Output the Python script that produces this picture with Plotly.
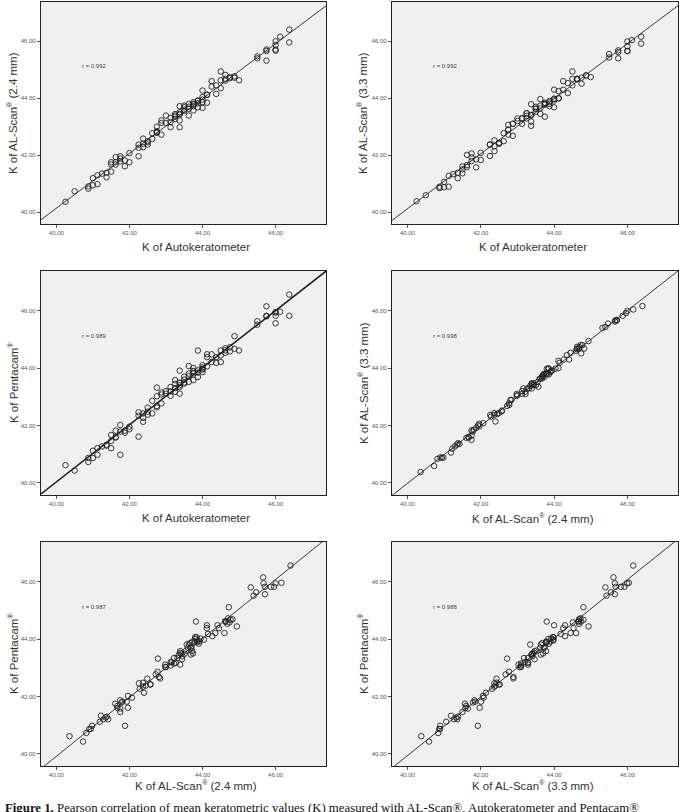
import numpy as np
import plotly.graph_objects as go

# ---- Data: one entry per eye (K values, dioptres) ----
auto_k = [40.25, 40.5, 40.875, 40.875, 41.0, 41.0, 41.125, 41.125, 41.25, 41.375, 41.375,
          41.5, 41.5, 41.5, 41.625, 41.625, 41.625, 41.75, 41.75, 41.75, 41.875, 41.875,
          42.0, 42.0, 42.25, 42.25, 42.25, 42.375, 42.375, 42.375, 42.5, 42.5, 42.625, 42.625,
          42.75, 42.75, 42.75, 42.75, 42.875, 42.875, 42.875, 43.0, 43.0, 43.125, 43.125, 43.125,
          43.25, 43.25, 43.25, 43.375, 43.375, 43.375, 43.375, 43.375, 43.5, 43.5, 43.625, 43.625,
          43.625, 43.75, 43.75, 43.75, 43.875, 43.875, 43.875, 44.0, 44.0, 44.0, 44.0, 44.125,
          44.125, 44.125, 44.25, 44.25, 44.375, 44.375, 44.5, 44.5, 44.5, 44.625, 44.625, 44.75,
          44.875, 44.875, 45.0, 45.5, 45.5, 45.75, 45.75, 45.75, 46.0, 46.0, 46.0, 46.0, 46.125,
          46.375, 46.375,
          43.25, 43.5, 43.625, 43.75, 43.875, 44.0, 43.375, 43.5, 43.75, 44.625, 44.75, 42.5]
alscan_24 = [40.36, 40.73, 40.82, 40.90, 40.94, 41.19, 40.98, 41.29, 41.35, 41.22, 41.38,
             41.42, 41.75, 41.67, 41.75, 41.93, 41.67, 41.78, 41.96, 41.88, 41.81, 41.61,
             42.07, 41.75, 41.96, 42.26, 42.37, 42.28, 42.58, 42.40, 42.37, 42.49, 42.57, 42.77,
             42.84, 42.81, 42.78, 43.00, 42.72, 43.22, 43.13, 43.39, 43.13, 42.98, 43.16, 43.31,
             43.39, 43.27, 43.44, 42.98, 43.22, 43.51, 43.45, 43.72, 43.68, 43.74, 43.39, 43.63,
             43.80, 43.72, 43.57, 43.86, 43.68, 43.82, 43.92, 44.04, 44.27, 43.66, 43.86, 43.84,
             44.12, 44.12, 44.41, 44.60, 44.15, 44.45, 44.63, 44.94, 44.35, 44.82, 44.68, 44.74,
             44.72, 44.77, 44.63, 45.47, 45.40, 45.66, 45.71, 45.32, 46.00, 45.71, 45.87, 45.67,
             46.16, 46.41, 45.96,
             43.35, 43.55, 43.70, 43.78, 43.90, 43.95, 43.42, 43.60, 43.80, 44.62, 44.70, 42.45]
alscan_33 = [40.38, 40.59, 40.84, 40.89, 40.87, 41.06, 40.89, 41.27, 41.33, 41.19, 41.38,
             41.36, 41.50, 41.60, 41.65, 42.01, 41.58, 41.79, 42.06, 41.92, 41.85, 41.57,
             42.08, 41.83, 41.97, 42.37, 42.37, 42.31, 42.52, 42.14, 42.43, 42.43, 42.49, 42.77,
             42.89, 42.89, 42.72, 43.06, 42.68, 43.10, 43.10, 43.29, 43.20, 43.10, 43.29, 43.29,
             43.47, 43.29, 43.47, 43.03, 43.18, 43.41, 43.41, 43.79, 43.64, 43.70, 43.45, 43.64,
             43.97, 43.78, 43.35, 43.78, 43.72, 43.80, 43.90, 43.98, 44.30, 43.68, 43.98, 43.99,
             44.25, 44.00, 44.30, 44.60, 44.18, 44.53, 44.68, 44.94, 44.45, 44.68, 44.68, 44.51,
             44.80, 44.80, 44.74, 45.55, 45.43, 45.62, 45.68, 45.40, 45.99, 45.66, 45.82, 45.66,
             46.04, 46.16, 45.92,
             43.38, 43.52, 43.74, 43.80, 43.86, 43.92, 43.40, 43.62, 43.84, 44.66, 44.72, 42.40]
pentacam = [40.62, 40.43, 40.73, 40.87, 40.87, 41.12, 40.98, 41.21, 41.27, 41.33, 41.30,
            41.21, 41.46, 41.67, 41.58, 41.82, 41.60, 41.79, 42.02, 40.98, 41.82, 41.75,
            41.96, 41.87, 41.61, 42.46, 42.34, 42.27, 42.42, 42.13, 42.48, 42.62, 42.42, 42.86,
            42.63, 42.68, 43.32, 43.02, 42.77, 43.15, 43.08, 43.11, 43.20, 43.03, 43.19, 43.34,
            43.58, 43.17, 43.30, 43.11, 43.34, 43.49, 43.40, 43.91, 43.46, 43.50, 43.52, 43.81,
            44.07, 43.58, 43.81, 43.90, 43.69, 44.61, 43.92, 43.98, 44.10, 43.86, 43.95, 44.06,
            44.38, 44.48, 44.48, 44.21, 44.18, 44.38, 44.61, 44.44, 44.21, 44.69, 44.53, 44.58,
            45.11, 44.67, 44.61, 45.63, 45.51, 46.15, 45.82, 45.80, 45.94, 45.56, 45.82, 45.94,
            45.96, 46.56, 45.82,
            43.45, 43.60, 43.72, 43.88, 43.84, 44.02, 43.48, 43.70, 44.00, 44.62, 44.72, 42.38]

r_labels = ["r = 0.992", "r = 0.992", "r = 0.989", "r = 0.998", "r = 0.987", "r = 0.988"]
tick_vals = [40, 42, 44, 46]

REG = "<sup><span style='font-size:7px'>®</span></sup>"
AL24 = f"K of AL-Scan{REG} (2.4 mm)"
AL33 = f"K of AL-Scan{REG} (3.3 mm)"
PENTA = f"K of Pentacam{REG}"
AUTO = "K of Autokeratometer"

panels = [
    (auto_k, alscan_24, AUTO, AL24),
    (auto_k, alscan_33, AUTO, AL33),
    (auto_k, pentacam, AUTO, PENTA),
    (alscan_24, alscan_33, AL24, AL33),
    (alscan_24, pentacam, AL24, PENTA),
    (alscan_33, pentacam, AL33, PENTA),
]

W, H = 679, 812
col_x = [(41, 326), (392, 678)]
row_y = [(2, 224), (271, 495), (542, 766)]
xtitle_y = [247, 518, 785]
xtitle_x = [196, 533]
ytitle_x = [13, 363]
rng = [39.58, 47.38]

fig = go.Figure()
annotations = []
layout_axes = {}

for i, (xs, ys, xt, yt) in enumerate(panels):
    r, c = divmod(i, 2)
    n = i + 1
    xa = "xaxis" if n == 1 else f"xaxis{n}"
    ya = "yaxis" if n == 1 else f"yaxis{n}"
    xref = "x" if n == 1 else f"x{n}"
    yref = "y" if n == 1 else f"y{n}"
    x0, x1 = col_x[c]
    y0, y1 = row_y[r]
    common = dict(range=rng, tickvals=tick_vals, tickformat=".2f",
                  tickfont=dict(family="Liberation Sans, Arial", size=6, color="#555"),
                  showgrid=False, zeroline=False, showline=True, linecolor="#222",
                  linewidth=1.3, mirror=True, ticks="outside", ticklen=3,
                  tickcolor="#555", tickwidth=0.8)
    layout_axes[xa] = dict(common, domain=[x0 / W, x1 / W], anchor=yref)
    layout_axes[ya] = dict(common, domain=[1 - y1 / H, 1 - y0 / H], anchor=xref)

    xarr = np.array(xs)
    yarr = np.array(ys)
    fig.add_trace(go.Scatter(
        x=xarr, y=yarr, mode="markers", xaxis=xref, yaxis=yref, showlegend=False,
        marker=dict(symbol="circle-open", size=5.5, color="#222", line=dict(width=0.9)),
        hoverinfo="x+y"))
    slope, icpt = np.polyfit(xarr, yarr, 1)
    lx = np.array(rng)
    fig.add_trace(go.Scatter(
        x=lx, y=slope * lx + icpt, mode="lines", xaxis=xref, yaxis=yref,
        showlegend=False, hoverinfo="skip",
        line=dict(color="#222", width=1.6 if i == 2 else 0.9)))

    annotations.append(dict(x=40.65, y=45.13, xref=xref, yref=yref, text=r_labels[i],
                            showarrow=False, xanchor="left", yanchor="middle",
                            font=dict(family="Liberation Sans, Arial", size=6, color="#444")))
    annotations.append(dict(x=xtitle_x[c] / W, y=1 - xtitle_y[r] / H, xref="paper", yref="paper",
                            text=xt, showarrow=False, xanchor="center", yanchor="middle",
                            font=dict(family="Liberation Sans, Arial", size=11.5, color="#333")))
    annotations.append(dict(x=ytitle_x[c] / W, y=1 - (y0 + y1) / 2 / H, xref="paper", yref="paper",
                            text=yt, showarrow=False, textangle=-90,
                            xanchor="center", yanchor="middle",
                            font=dict(family="Liberation Sans, Arial", size=11.5, color="#333")))

annotations.append(dict(
    x=0.004, y=1 - 808 / H, xref="paper", yref="paper", xanchor="left", yanchor="middle",
    showarrow=False,
    text="<b>Figure 1.</b> Pearson correlation of mean keratometric values (K) measured with "
         "AL-Scan®, Autokeratometer and Pentacam®",
    font=dict(family="Liberation Serif, Times New Roman", size=12.8, color="#111")))

fig.update_layout(
    width=W, height=H, margin=dict(l=0, r=0, t=0, b=0),
    paper_bgcolor="white", plot_bgcolor="#f0f0f0",
    annotations=annotations, **layout_axes)

fig.write_html("out.html")
